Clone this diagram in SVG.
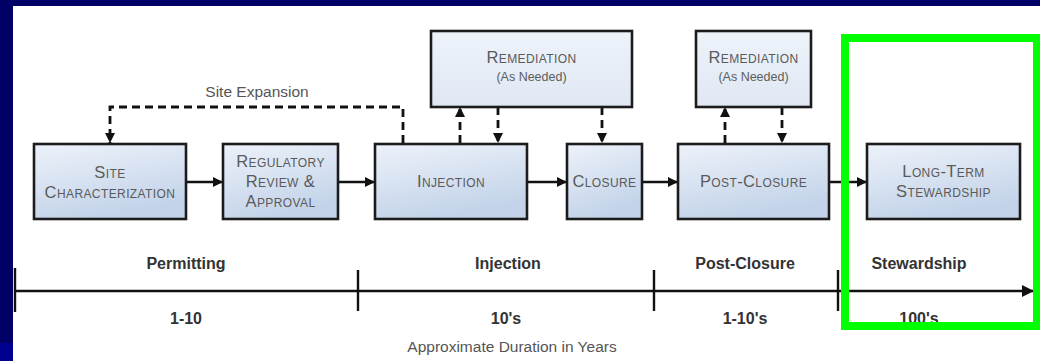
<svg xmlns="http://www.w3.org/2000/svg" width="1040" height="361" viewBox="0 0 1040 361">
  <defs>
    <linearGradient id="nodeFill" x1="0" y1="0" x2="0.35" y2="1">
      <stop offset="0" stop-color="#edf2fa"/>
      <stop offset="1" stop-color="#c3d3e9"/>
    </linearGradient>
    <linearGradient id="remFill" x1="0" y1="0" x2="0" y2="1">
      <stop offset="0" stop-color="#eef3fa"/>
      <stop offset="1" stop-color="#dfe7f3"/>
    </linearGradient>
    <marker id="arrow" markerUnits="userSpaceOnUse" markerWidth="11" markerHeight="11" refX="10" refY="5" orient="auto">
      <path d="M0,0 L10,5 L0,10 z" fill="#111"/>
    </marker>
    <marker id="arrowBig" markerUnits="userSpaceOnUse" markerWidth="13" markerHeight="13" refX="12" refY="6" orient="auto">
      <path d="M0,0 L12,6 L0,12 z" fill="#111"/>
    </marker>
    <style>
      .box { fill: url(#nodeFill); stroke: #1c1c1c; stroke-width: 2.6; }
      .rem { fill: url(#remFill); stroke: #1c1c1c; stroke-width: 2.6; }
      .lbl { font-family: "Liberation Sans", Arial, sans-serif; font-size: 16.5px; font-variant: small-caps; letter-spacing: 0.4px; fill: #5a5a5a; text-anchor: middle; }
      .sub { font-family: "Liberation Sans", Arial, sans-serif; font-size: 12.5px; fill: #5c5c5c; text-anchor: middle; }
      .solid { stroke: #111; stroke-width: 2.6; fill: none; marker-end: url(#arrow); }
      .dash { stroke: #111; stroke-width: 2.8; fill: none; stroke-dasharray: 8 5; marker-end: url(#arrow); }
      .phase { font-family: "Liberation Sans", Arial, sans-serif; font-size: 16px; font-weight: bold; fill: #333; text-anchor: middle; }
      .note { font-family: "Liberation Sans", Arial, sans-serif; font-size: 15.5px; fill: #555; text-anchor: middle; }
      .tick { stroke: #111; stroke-width: 2.4; }
    </style>
  </defs>

  <!-- slide frame -->
  <rect x="0" y="0" width="1040" height="361" fill="#000066"/>
  <rect x="0" y="343" width="13" height="18" fill="#000090"/>
  <rect x="13" y="6" width="1027" height="355" fill="#ffffff"/>

  <!-- connectors -->
  <g id="connectors">
    <line class="solid" x1="186" y1="182" x2="223" y2="182"/>
    <line class="solid" x1="338" y1="182" x2="375" y2="182"/>
    <line class="solid" x1="527" y1="182" x2="567" y2="182"/>
    <line class="solid" x1="642" y1="182" x2="678" y2="182"/>
    <line class="solid" x1="829" y1="182" x2="867" y2="182"/>
    <path class="dash" d="M403,143 V107 H110 V143"/>
    <text class="note" x="257" y="97">Site Expansion</text>
    <path class="dash" d="M460,143 V107"/>
    <path class="dash" d="M498,107 V143"/>
    <path class="dash" d="M602,107 V143"/>
    <path class="dash" d="M725,143 V107"/>
    <path class="dash" d="M782,107 V143"/>
  </g>

  <!-- process nodes -->
  <g id="site-characterization">
    <rect class="box" x="34" y="144" width="152" height="75"/>
    <text class="lbl" x="110" y="178">Site</text>
    <text class="lbl" x="110" y="198">Characterization</text>
  </g>
  <g id="regulatory-review">
    <rect class="box" x="223" y="144" width="115" height="75"/>
    <text class="lbl" x="280.5" y="167">Regulatory</text>
    <text class="lbl" x="280.5" y="187">Review &amp;</text>
    <text class="lbl" x="280.5" y="207">Approval</text>
  </g>
  <g id="injection">
    <rect class="box" x="375" y="144" width="152" height="75"/>
    <text class="lbl" x="451" y="187">Injection</text>
  </g>
  <g id="closure">
    <rect class="box" x="567" y="144" width="75" height="75"/>
    <text class="lbl" x="604.5" y="187">Closure</text>
  </g>
  <g id="post-closure">
    <rect class="box" x="678" y="144" width="151" height="75"/>
    <text class="lbl" x="753.5" y="187">Post-Closure</text>
  </g>
  <g id="long-term-stewardship">
    <rect class="box" x="867" y="144" width="153" height="75"/>
    <text class="lbl" x="943.5" y="177">Long-Term</text>
    <text class="lbl" x="943.5" y="197">Stewardship</text>
  </g>
  <g id="remediation-injection">
    <rect class="rem" x="431" y="31" width="201" height="76"/>
    <text class="lbl" x="531.5" y="63">Remediation</text>
    <text class="sub" x="531.5" y="81">(As Needed)</text>
  </g>
  <g id="remediation-post-closure">
    <rect class="rem" x="696" y="31" width="115" height="76"/>
    <text class="lbl" x="753.5" y="63">Remediation</text>
    <text class="sub" x="753.5" y="81">(As Needed)</text>
  </g>

  <!-- timeline -->
  <g id="timeline">
    <line x1="15" y1="291" x2="1034" y2="291" stroke="#111" stroke-width="2.6" marker-end="url(#arrowBig)"/>
    <line class="tick" x1="15" y1="268" x2="15" y2="312"/>
    <line class="tick" x1="358" y1="270" x2="358" y2="311"/>
    <line class="tick" x1="654" y1="270" x2="654" y2="311"/>
    <line class="tick" x1="838" y1="270" x2="838" y2="311"/>
    <text class="phase" x="186" y="269">Permitting</text>
    <text class="phase" x="508" y="269">Injection</text>
    <text class="phase" x="745" y="269">Post-Closure</text>
    <text class="phase" x="919" y="269">Stewardship</text>
    <text class="phase" x="186" y="324">1-10</text>
    <text class="phase" x="506" y="324">10's</text>
    <text class="phase" x="745" y="324">1-10's</text>
    <text class="phase" x="919" y="324">100's</text>
    <text class="note" x="512" y="352">Approximate Duration in Years</text>
  </g>

  <!-- highlight frame -->
  <rect id="highlight" x="845" y="38" width="192" height="288" fill="none" stroke="#00ff00" stroke-width="8"/>
</svg>
